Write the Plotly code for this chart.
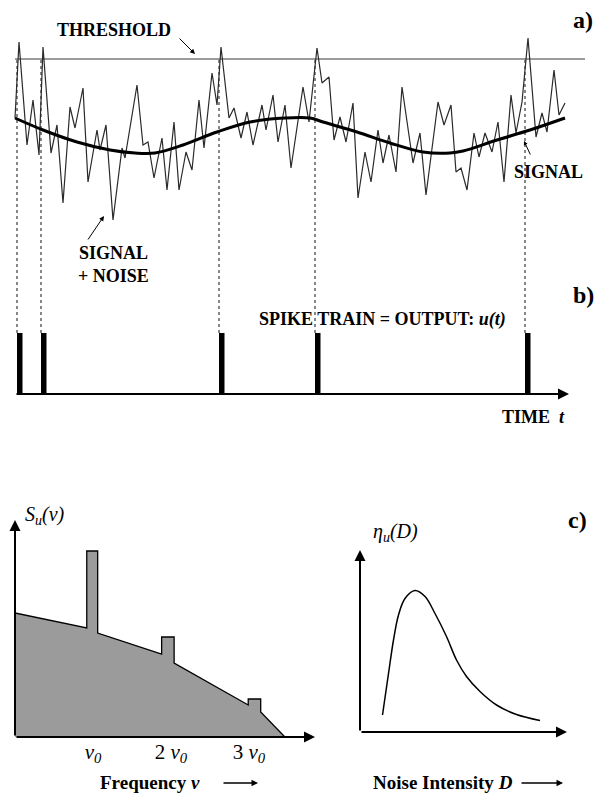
import plotly.graph_objects as go

W, H = 601, 793

# ---------------- data ----------------
# panel a: time in arbitrary units, amplitude in arbitrary units
time_noisy = [15, 19, 27, 33, 39, 43, 51, 57, 63, 70, 75, 83, 88, 97, 100, 106, 113, 122, 125, 137,
              143, 148, 154, 162, 167, 174, 179, 186, 192, 199, 204, 212, 217, 221, 229, 234, 241, 247,
              253, 262, 266, 273, 278, 285, 291, 303, 309, 317, 322, 329, 334, 340, 346, 353, 358, 365,
              371, 378, 383, 389, 396, 402, 413, 420, 426, 438, 444, 451, 456, 461, 467, 474, 479, 485,
              492, 498, 504, 511, 516, 522, 528, 536, 542, 547, 554, 559, 565]
signal_noisy = [3.5, 11.1, 0.8, 5.3, -0.2, 10.6, 0.0, 2.8, -5.0, 4.6, 2.5, 6.5, -2.9, 2.3, 0.3, 2.8, -6.7,
                0.5, -0.5, 6.8, 0.8, 1.1, -2.5, 1.5, -3.7, 3.1, -3.7, 0.1, -1.7, 5.3, 0.5, 8.0, 4.8, 10.6,
                3.5, 4.5, 1.5, 4.1, 0.8, 4.8, 2.3, 5.8, 1.1, 4.8, -1.5, 6.6, 3.1, 10.5, 7.0, 7.6, 1.3, 3.6,
                1.1, 5.0, -4.5, 0.1, -2.9, 2.3, -1.0, 1.8, -1.9, 6.6, -1.0, 2.0, -4.2, 5.1, 2.8, 4.8, -1.9,
                -1.5, -3.7, 2.0, -0.4, 2.0, 0.1, 3.1, -2.9, 5.8, 2.0, 5.1, 11.5, 1.6, 4.0, 2.1, 8.3, 3.8, 5.0]
time_smooth = [15, 43, 77, 110, 135, 155, 183, 217, 250, 285, 310, 323, 357, 390, 423, 450, 463, 497, 530, 565]
signal_smooth = [3.5, 2.3, 1.1, 0.3, 0.0, 0.0, 0.8, 2.1, 3.1, 3.5, 3.5, 3.1, 2.1, 1.0, 0.1, 0.0, 0.2, 1.3, 2.3, 3.5]
threshold_level = 9.4
threshold_span = [15, 585]

# panel b: output spike train
spike_times = [17, 41, 219, 315, 525]
spike_heights = [1, 1, 1, 1, 1]

# panel c (left): power spectrum, frequency in units of nu_0
freq = [0, 0.92, 0.92, 1.06, 1.06, 1.88, 1.88, 2.04, 2.04, 2.52, 2.99, 2.99, 3.15, 3.15, 3.46]
spectrum = [1.24, 1.09, 1.86, 1.86, 1.04, 0.83, 1.00, 1.00, 0.74, 0.53, 0.32, 0.38, 0.38, 0.25, 0.0]
freq_ticks = [1, 2, 3]
freq_ticklabels = ["<i>ν<sub>0</sub></i>", "2 <i>ν<sub>0</sub></i>", "3 <i>ν<sub>0</sub></i>"]

# panel c (right): SNR vs noise intensity
noise_D = [0.45, 0.57, 0.67, 0.77, 0.90, 1.10, 1.30, 1.50, 1.73, 1.93, 2.13, 2.40, 2.73, 3.13, 3.60]
snr_eta = [0.34, 1.17, 1.84, 2.34, 2.67, 2.83, 2.71, 2.37, 1.91, 1.44, 1.11, 0.81, 0.54, 0.35, 0.23]

# ---------------- layout helpers ----------------
FONT = "Liberation Serif"


def dom_x(p0, p1):
    return [p0 / W, p1 / W]


def dom_y(pbottom, ptop):
    return [1 - pbottom / H, 1 - ptop / H]


def px(x, y):
    return x / W, 1 - y / H


a_dom = dom_y(253, 33)
a_rng = [-10, 12]
b_dom = dom_y(394, 333)
c1_dom_x = dom_x(15, 320)
c1_dom_y = dom_y(737, 515)
c1_rng_x = [0, 305 / 78]
c1_rng_y = [0, 2.22]
c2_dom_x = dom_x(360, 590)
c2_dom_y = dom_y(732, 540)
c2_rng_x = [0, 4.6]
c2_rng_y = [0, 3.84]

fig = go.Figure()

# panel a
fig.add_trace(go.Scatter(x=threshold_span, y=[threshold_level, threshold_level], mode="lines",
                         line=dict(color="#7a7a7a", width=1.6), xaxis="x", yaxis="y", hoverinfo="skip"))
fig.add_trace(go.Scatter(x=time_noisy, y=signal_noisy, mode="lines",
                         line=dict(color="#2a2a2a", width=1.2), xaxis="x", yaxis="y", hoverinfo="skip"))
fig.add_trace(go.Scatter(x=time_smooth, y=signal_smooth, mode="lines", line_shape="spline",
                         line=dict(color="black", width=3), xaxis="x", yaxis="y", hoverinfo="skip"))

# panel b
fig.add_trace(go.Bar(x=spike_times, y=spike_heights, width=5.5, offset=0,
                     marker=dict(color="black", line=dict(width=0)), xaxis="x", yaxis="y2", hoverinfo="skip"))

# panel c left
fig.add_trace(go.Scatter(x=freq, y=spectrum, mode="lines", fill="tozeroy", fillcolor="#9b9b9b",
                         line=dict(color="black", width=1.3), xaxis="x3", yaxis="y3", hoverinfo="skip"))

# panel c right
fig.add_trace(go.Scatter(x=noise_D, y=snr_eta, mode="lines", line_shape="spline",
                         line=dict(color="black", width=1.5), xaxis="x4", yaxis="y4", hoverinfo="skip"))

# dotted connectors from threshold crossings down to the spikes
thr_paper = a_dom[0] + (threshold_level - a_rng[0]) / (a_rng[1] - a_rng[0]) * (a_dom[1] - a_dom[0])
shapes = []
for t in spike_times:
    shapes.append(dict(type="line", xref="x", yref="paper", x0=t, x1=t, y0=b_dom[1], y1=thr_paper,
                       line=dict(color="#555555", width=1.4, dash="dot"), layer="below"))

hidden = dict(visible=False, showgrid=False, zeroline=False, fixedrange=True)

annotations = []


def text(x, y, s, size, xanchor="center"):
    X, Y = px(x, y)
    annotations.append(dict(x=X, y=Y, xref="paper", yref="paper", text=s, showarrow=False,
                            xanchor=xanchor, yanchor="middle",
                            font=dict(family=FONT, size=size, color="black")))


def pointer(tip, tail, width=1.0, size=1.0, head=2):
    X, Y = px(*tip)
    annotations.append(dict(x=X, y=Y, xref="paper", yref="paper", text="", showarrow=True,
                            ax=tail[0] - tip[0], ay=tail[1] - tip[1], arrowhead=head,
                            arrowsize=size, arrowwidth=width, arrowcolor="black"))


def axis_arrow(xref, yref, x0, y0, x1, y1, width=2):
    annotations.append(dict(x=x1, y=y1, xref=xref, yref=yref, ax=x0, ay=y0, axref=xref, ayref=yref,
                            text="", showarrow=True, arrowhead=2, arrowsize=1.1, arrowwidth=width,
                            arrowcolor="black"))


# panel labels / texts
text(114, 30, "<b>THRESHOLD</b>", 18)
pointer((195, 54), (178, 37))
text(583, 20, "<b>a)</b>", 24)
text(548, 172, "<b>SIGNAL</b>", 18)
pointer((524, 141), (531, 156), size=0.8)
text(113, 264, "<b>SIGNAL</b><br><b>+ NOISE</b>", 18)
pointer((104, 216), (87, 241))
text(583, 295, "<b>b)</b>", 24)
text(382, 319, "<b>SPIKE TRAIN = OUTPUT: <i>u(t)</i></b>", 18)
text(533, 417, "<b>TIME  <i>t</i></b>", 18)

# spike-train time axis
axis_arrow("x", "y2", 15, 0, 569, 0)

# panel c
text(577, 520, "<b>c)</b>", 24)
text(45, 515, "<i>S<sub>u</sub>(ν)</i>", 20)
text(395, 532, "<i>η<sub>u</sub>(D)</i>", 20)
axis_arrow("x3", "y3", 0, 0, 0, 2.17)
axis_arrow("x3", "y3", 0, 0, 300 / 78, 0)
axis_arrow("x4", "y4", 0, 0, 0, 3.64)
axis_arrow("x4", "y4", 0, 0, 4.14, 0)
text(150, 782, "<b>Frequency <i>ν</i></b>", 19)
pointer((258, 783), (222, 783), width=1.3)
text(443, 782, "<b>Noise Intensity <i>D</i></b>", 19)
pointer((563, 783), (520, 783), width=1.3)

fig.update_layout(
    width=W, height=H, margin=dict(l=0, r=0, t=0, b=0),
    paper_bgcolor="white", plot_bgcolor="rgba(0,0,0,0)",
    showlegend=False, barmode="overlay",
    xaxis=dict(domain=[0, 1], range=[0, W], anchor="y2", **hidden),
    yaxis=dict(domain=a_dom, range=a_rng, anchor="x", **hidden),
    yaxis2=dict(domain=b_dom, range=[0, 1], anchor="x", **hidden),
    xaxis3=dict(domain=c1_dom_x, range=c1_rng_x, anchor="y3", visible=True, showgrid=False,
                zeroline=False, showline=False, ticks="", tickvals=freq_ticks, ticktext=freq_ticklabels,
                tickfont=dict(family=FONT, size=21, color="black"), fixedrange=True),
    yaxis3=dict(domain=c1_dom_y, range=c1_rng_y, anchor="x3", **hidden),
    xaxis4=dict(domain=c2_dom_x, range=c2_rng_x, anchor="y4", **hidden),
    yaxis4=dict(domain=c2_dom_y, range=c2_rng_y, anchor="x4", **hidden),
    shapes=shapes, annotations=annotations,
)

fig.write_html("out.html", config={"displayModeBar": False},
               post_script="document.body.style.margin='0px';document.body.style.overflow='hidden';")
